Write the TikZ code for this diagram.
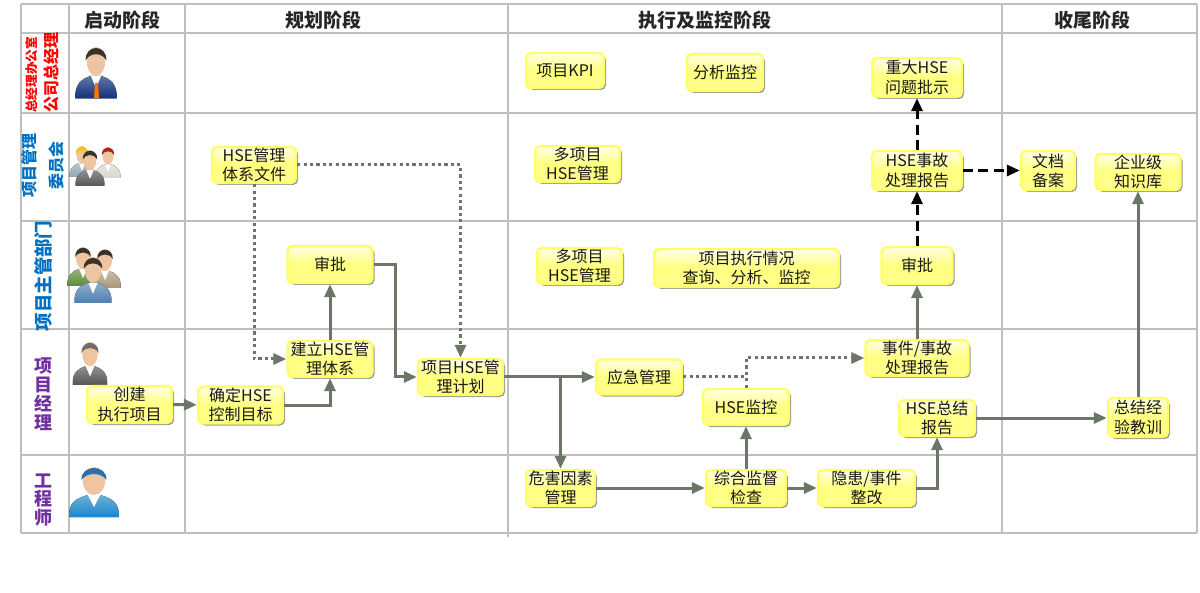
\documentclass[tikz,border=0pt]{standalone}
\usepackage{fontspec}
\setmainfont{Noto Sans CJK SC}
\usetikzlibrary{arrows.meta,shadows,shadings}
\definecolor{gridgray}{HTML}{BFBFBF}
\definecolor{flowgray}{HTML}{6B7568}
\definecolor{roleblue}{HTML}{0070C0}
\definecolor{rolepurple}{HTML}{7030A0}
\definecolor{skin}{HTML}{EFC4A0}
\definecolor{suitnavy}{HTML}{0F2F7A}
\definecolor{suitgray}{HTML}{555555}
\definecolor{suitpale}{HTML}{D8D8D0}
\definecolor{suitsteel}{HTML}{8FA8B8}
\definecolor{suitgreen}{HTML}{5F8A3A}
\definecolor{suitkhaki}{HTML}{A89878}
\definecolor{suitblue}{HTML}{4F7FB0}
\definecolor{suitcyan}{HTML}{1C86C8}
\definecolor{hairdark}{HTML}{3A3328}
\definecolor{hairgray}{HTML}{6E6E6E}
\definecolor{hatyellow}{HTML}{F2C21A}
\definecolor{hatred}{HTML}{A52A1E}
\definecolor{hatblue}{HTML}{2C6FB0}
\definecolor{boxedge}{HTML}{FFFF66}
\tikzset{
 gridline/.style={gridgray,line width=1pt},
 flowbox/.style={draw=boxedge,line width=1.2pt,rounded corners=2.5pt,top color=yellow!10,bottom color=yellow!45,
  middle color=yellow!50,drop shadow={shadow xshift=1pt,shadow yshift=-1pt,fill=black,opacity=.4},
  align=center,inner sep=0pt,font=\fontsize{8}{9.6}\selectfont,text=black!90},
 flowline/.style={flowgray,line width=1.5pt,-{Triangle[length=6.5pt,width=5.5pt]}},
 dotline/.style={flowgray,line width=1.5pt,dash pattern=on 1.6pt off 1.6pt,-{Triangle[length=6.5pt,width=5.5pt]}},
 dashline/.style={black,line width=1.5pt,dash pattern=on 5pt off 2.6pt,-{Triangle[length=6.5pt,width=5.5pt]}},
 phasehead/.style={font=\fontsize{9.5}{11}\selectfont\bfseries,text=black!85},
 rolelabel/.style={font=\fontsize{8}{9}\selectfont\bfseries,rotate=90,inner sep=0pt},
 stacklabel/.style={font=\fontsize{9}{9.4}\selectfont\bfseries,text=rolepurple,align=center,inner sep=0pt},
}
% x, y, scaling, suit, hair
\newcommand{\peopleicon}[5]{
 \begin{scope}[shift={(#1,#2)},#3]
  \fill[top color=#4!65,bottom color=#4] (-20,50) .. controls (-21,36) and (-14,31) .. (-5,28) -- (5,28) .. controls (14,31) and (21,36) .. (20,50) -- cycle;
  \fill[white] (-5,28) -- (5,28) -- (0,40) -- cycle;
  \fill[skin] (0,14) ellipse (9 and 14);
  \fill[#5] (-10,13) .. controls (-11,-3) and (11,-3) .. (10,13) .. controls (6,5) and (-6,5) .. (-10,13) -- cycle;
 \end{scope}
}
\begin{document}
\begin{tikzpicture}[x=0.5pt,y=-0.5pt]
 \useasboundingbox (0,0) rectangle (1200,593);
 % table
 \draw[gridline] (21,4) -- (1197,4);
 \draw[gridline] (21,33) -- (1197,33);
 \draw[gridline] (21,113) -- (1197,113);
 \draw[gridline] (21,221) -- (1197,221);
 \draw[gridline] (21,329) -- (1197,329);
 \draw[gridline] (21,455) -- (1197,455);
 \draw[gridline] (21,533) -- (1197,533);
 \draw[gridline] (21,4) -- (21,533);
 \draw[gridline] (68.5,4) -- (68.5,533);
 \draw[gridline] (185,4) -- (185,533);
 \draw[gridline] (508,4) -- (508,537);
 \draw[gridline] (1002,4) -- (1002,533);
 \draw[gridline] (1197,4) -- (1197,533);
 % phases
 \node[phasehead] (start) at (122,20) {启动阶段};
 \node[phasehead] (plan) at (323,20) {规划阶段};
 \node[phasehead] (exec) at (705,20) {执行及监控阶段};
 \node[phasehead] (close) at (1092,20) {收尾阶段};
 % roles
 \node[rolelabel,text=red,font=\fontsize{6.3}{7}\selectfont\bfseries] (office) at (32,75) {总经理办公室};
 \node[rolelabel,text=red] (ceo) at (51,73) {公司总经理};
 \node[rolelabel,text=roleblue] (pmc) at (29,166) {项目管理};
 \node[rolelabel,text=roleblue] (pmcb) at (56,166) {委员会};
 \node[rolelabel,text=roleblue,font=\fontsize{9.2}{10}\selectfont\bfseries] (dept) at (43,276) {项目主管部门};
 \node[stacklabel] (pm) at (43,394) {项\\目\\经\\理};
 \node[stacklabel] (eng) at (43,500) {工\\程\\师};
 % icons
 \peopleicon{96}{47}{scale=1.03}{suitnavy}{hairdark}
 \fill[orange!90!red] (95,83) -- (98,83) -- (99,98) -- (94,98) -- cycle;
 \peopleicon{82}{146}{scale=.62}{suitsteel}{hatyellow}
 \peopleicon{108}{147}{scale=.62}{suitpale}{hatred}
 \peopleicon{90}{150}{scale=.72}{suitgray}{hairdark}
 \peopleicon{83}{247}{scale=.78}{suitgreen}{hairdark}
 \peopleicon{105}{249}{scale=.78}{suitkhaki}{hairdark}
 \peopleicon{93}{257}{scale=.92}{suitblue}{hairdark}
 \peopleicon{90}{342}{scale=.86}{suitgray}{hairgray}
 \peopleicon{94}{467}{xscale=1.24}{suitcyan}{hatblue}
 % boxes
 \node[flowbox,minimum width=42.5pt,minimum height=18.5pt] (create) at (129.5,404.5) {创建\\执行项目};
 \node[flowbox,minimum width=42.5pt,minimum height=18.5pt] (target) at (240.5,405) {确定HSE\\控制目标};
 \node[flowbox,minimum width=42.5pt,minimum height=18pt] (build) at (330,359) {建立HSE管\\理体系};
 \node[flowbox,minimum width=42.5pt,minimum height=18.5pt] (approveA) at (330,264.5) {审批};
 \node[flowbox,minimum width=42pt,minimum height=18pt] (sysfile) at (254,165) {HSE管理\\体系文件};
 \node[flowbox,minimum width=42.5pt,minimum height=18pt] (hseplan) at (460.5,377) {项目HSE管\\理计划};
 \node[flowbox,minimum width=43pt,minimum height=17.5pt] (emerg) at (639,377) {应急管理};
 \node[flowbox,minimum width=43pt,minimum height=18pt] (monitor) at (746,407) {HSE监控};
 \node[flowbox,minimum width=51.5pt,minimum height=18pt] (event) at (917,358) {事件/事故\\处理报告};
 \node[flowbox,minimum width=38pt,minimum height=18pt] (summary) at (937,418) {HSE总结\\报告};
 \node[flowbox,minimum width=34.5pt,minimum height=18pt] (hazard) at (560.5,488) {危害因素\\管理};
 \node[flowbox,minimum width=40pt,minimum height=18pt] (inspect) at (746,488) {综合监督\\检查};
 \node[flowbox,minimum width=48.5pt,minimum height=18pt] (rectify) at (866.5,488) {隐患/事件\\整改};
 \node[flowbox,minimum width=30pt,minimum height=19.5pt] (lesson) at (1138,417.5) {总结经\\验教训};
 \node[flowbox,minimum width=42.5pt,minimum height=18pt] (kbase) at (1138,172) {企业级\\知识库};
 \node[flowbox,minimum width=27pt,minimum height=19.5pt] (archive) at (1048,170.5) {文档\\备案};
 \node[flowbox,minimum width=45pt,minimum height=19.5pt] (accident) at (917,170.5) {HSE事故\\处理报告};
 \node[flowbox,minimum width=45pt,minimum height=19.5pt] (major) at (917,77.5) {重大HSE\\问题批示};
 \node[flowbox,minimum width=35.5pt,minimum height=18.5pt] (approveB) at (917,265.5) {审批};
 \node[flowbox,minimum width=39pt,minimum height=17.5pt] (kpi) at (565,70.5) {项目KPI};
 \node[flowbox,minimum width=38pt,minimum height=18.5pt] (analyse) at (725,72.5) {分析监控};
 \node[flowbox,minimum width=42.5pt,minimum height=18pt] (multiA) at (577.5,164) {多项目\\HSE管理};
 \node[flowbox,minimum width=42.5pt,minimum height=18pt] (multiB) at (579.5,266) {多项目\\HSE管理};
 \node[flowbox,minimum width=92.5pt,minimum height=19pt] (query) at (746.5,268) {项目执行情况\\查询、分析、监控};
 % solid flow
 \draw[flowline] (create) -- (target);
 \draw[flowline] (target.east) -| (build.south);
 \draw[flowline] (build) -- (approveA);
 \draw[flowline] (approveA.east) -- +(22,0) |- (hseplan.west);
 \draw[flowline] (hseplan) -- (emerg);
 \draw[flowline] (hseplan.east -| hazard.north) -- (hazard.north);
 \draw[flowline] (hazard) -- (inspect);
 \draw[flowline] (inspect) -- (monitor);
 \draw[flowline] (inspect) -- (rectify);
 \draw[flowline] (rectify.east) -| (summary.south);
 \draw[flowline] (event) -- (approveB);
 \draw[flowline] (summary.east) -- (lesson.west |- summary.east);
 \draw[flowline] (lesson) -- (kbase);
 % dotted flow
 \draw[dotline] (sysfile.south) |- (build.west);
 \draw[dotline] (sysfile.east) -| (hseplan.north);
 \draw[dotline] (monitor.north) |- (event.west);
 \draw[dotline,-] (emerg.east) -- (emerg.east -| monitor.north);
 % dashed flow
 \draw[dashline] (approveB) -- (accident);
 \draw[dashline] (accident) -- (major);
 \draw[dashline] (accident) -- (archive);
\end{tikzpicture}
\end{document}
